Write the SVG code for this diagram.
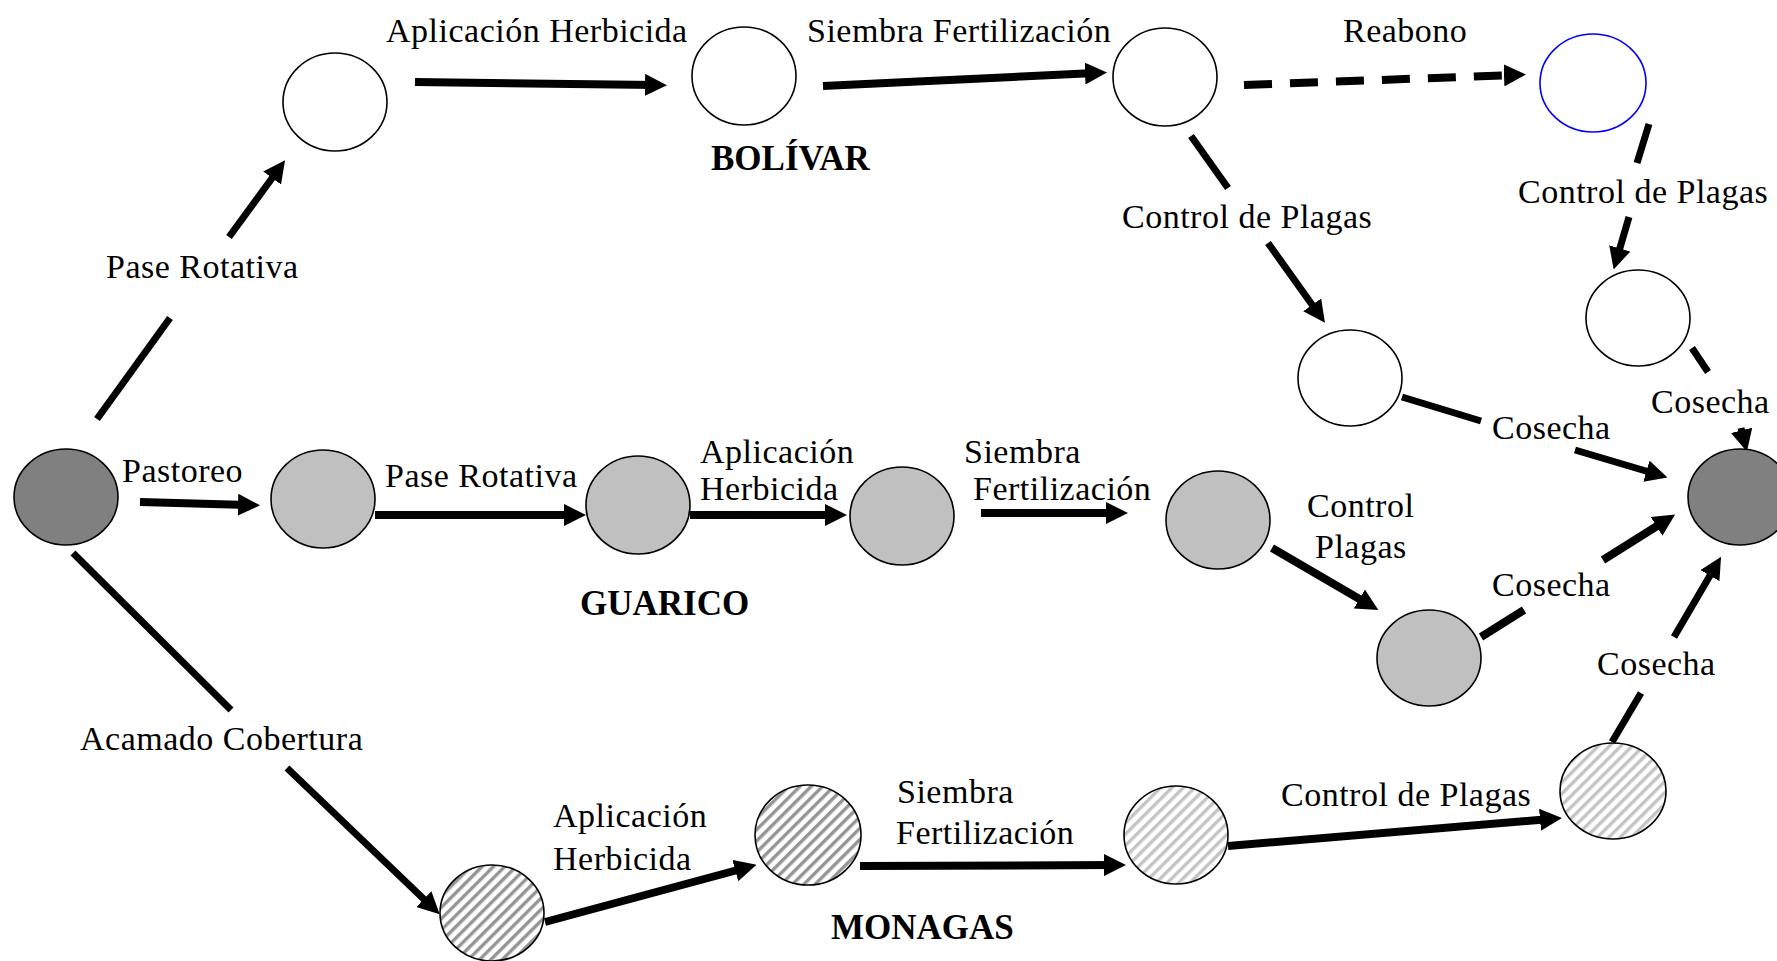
<svg xmlns="http://www.w3.org/2000/svg" width="1777" height="961" viewBox="0 0 1777 961">
<style>
.bg{fill:#ffffff}
.n{stroke:#000;stroke-width:1.6}
.w{fill:#fff}
.dk{fill:#808080}
.lg{fill:#c0c0c0}
.h1{fill:url(#hatchDark)}
.h2{fill:url(#hatchLight)}
.blue{fill:#fff;stroke:#0000ff;stroke-width:1.6}
.c{fill:none;stroke:#000;stroke-width:8;marker-end:url(#ah)}
.cd{fill:none;stroke:#000;stroke-width:7;marker-end:url(#ah)}
.dash{stroke-dasharray:28 18}
text{font-family:"Liberation Serif","Times New Roman",serif;font-size:34px;letter-spacing:0.5px;fill:#000}
.b{font-weight:bold;font-size:35px;letter-spacing:0}
</style>
<defs>
<marker id="ah" markerUnits="userSpaceOnUse" viewBox="0 0 22 22" markerWidth="22" markerHeight="22" refX="10" refY="11" orient="auto">
<path d="M0,0 L22,11 L0,22 z" fill="#000"/>
</marker>
<pattern id="hatchDark" patternUnits="userSpaceOnUse" width="8" height="8" patternTransform="rotate(45)">
<rect width="8" height="8" fill="#fff"/>
<rect width="3.4" height="8" fill="#959595"/>
</pattern>
<pattern id="hatchLight" patternUnits="userSpaceOnUse" width="8" height="8" patternTransform="rotate(45)">
<rect width="8" height="8" fill="#fff"/>
<rect width="3.4" height="8" fill="#c4c4c4"/>
</pattern>
</defs>
<rect class="bg" x="0" y="0" width="1777" height="961"/>

<g id="connectors">
<path id="e-start-b1" class="cd" d="M97,419 L170,318 M229,237 L278,170"/>
<path id="e-b1-b2" class="c" d="M415,82 L655,85"/>
<path id="e-b2-b3" class="c" d="M823,86 L1095,73"/>
<path id="e-b3-blue" class="c dash" d="M1244,85 L1514,75"/>
<path id="e-b3-b4" class="cd" d="M1191,136 L1228,188 M1268,243 L1318,313"/>
<path id="e-blue-b5" class="cd" d="M1649,124 L1637,163 M1629,217 L1617,258"/>
<path id="e-b4-end" class="cd" d="M1402,397 L1481,421 M1575,450 L1656,474"/>
<path id="e-b5-end" class="cd" d="M1692,348 L1708,372 M1741,428 L1744,440"/>
<path id="e-start-g1" class="c" d="M140,502 L248,505"/>
<path id="e-g1-g2" class="c" d="M375,515 L574,515"/>
<path id="e-g2-g3" class="c" d="M690,515 L835,515"/>
<path id="e-g3-g4" class="c" d="M981,513 L1116,513"/>
<path id="e-g4-g5" class="c" d="M1272,548 L1368,604"/>
<path id="e-g5-end" class="c" d="M1481,637 L1524,610 M1603,560 L1665,521"/>
<path id="e-m4-end" class="cd" d="M1612,742 L1641,693 M1674,637 L1715,567"/>
<path id="e-start-m1" class="cd" d="M73,553 L231,710 M287,768 L431,906"/>
<path id="e-m1-m2" class="c" d="M545,922 L745,868"/>
<path id="e-m2-m3" class="c" d="M860,866 L1114,865"/>
<path id="e-m3-m4" class="c" d="M1228,846 L1550,819"/>
</g>

<g id="node-start"><ellipse class="n dk" cx="66" cy="497" rx="52" ry="48"/></g>
<g id="node-b1"><ellipse class="n w" cx="335" cy="102" rx="52" ry="49"/></g>
<g id="node-b2"><ellipse class="n w" cx="744" cy="76" rx="52" ry="49"/></g>
<g id="node-b3"><ellipse class="n w" cx="1165" cy="77" rx="52" ry="49"/></g>
<g id="node-blue"><ellipse class="blue" cx="1593" cy="83" rx="53" ry="49"/></g>
<g id="node-b4"><ellipse class="n w" cx="1350" cy="378" rx="52" ry="48"/></g>
<g id="node-b5"><ellipse class="n w" cx="1638" cy="318" rx="52" ry="48"/></g>
<g id="node-end"><ellipse class="n dk" cx="1740" cy="497" rx="52" ry="48"/></g>
<g id="node-g1"><ellipse class="n lg" cx="323" cy="499" rx="52" ry="49"/></g>
<g id="node-g2"><ellipse class="n lg" cx="638" cy="505" rx="52" ry="49"/></g>
<g id="node-g3"><ellipse class="n lg" cx="902" cy="516" rx="52" ry="49"/></g>
<g id="node-g4"><ellipse class="n lg" cx="1218" cy="520" rx="52" ry="49"/></g>
<g id="node-g5"><ellipse class="n lg" cx="1429" cy="658" rx="52" ry="48"/></g>
<g id="node-m1"><ellipse class="n h1" cx="492" cy="913" rx="52" ry="48"/></g>
<g id="node-m2"><ellipse class="n h1" cx="808" cy="835" rx="53" ry="50"/></g>
<g id="node-m3"><ellipse class="n h2" cx="1176" cy="835" rx="52" ry="49"/></g>
<g id="node-m4"><ellipse class="n h2" cx="1613" cy="791" rx="53" ry="48"/></g>

<g id="labels">
<text x="386" y="42">Aplicación Herbicida</text>
<text x="807" y="42">Siembra Fertilización</text>
<text x="1343" y="42">Reabono</text>
<text class="b" x="711" y="170">BOLÍVAR</text>
<text x="106" y="278">Pase Rotativa</text>
<text x="1122" y="228">Control de Plagas</text>
<text x="1518" y="203">Control de Plagas</text>
<text x="1492" y="439">Cosecha</text>
<text x="1651" y="413">Cosecha</text>
<text x="122" y="482">Pastoreo</text>
<text x="385" y="487">Pase Rotativa</text>
<text x="700" y="463">Aplicación</text>
<text x="700" y="500">Herbicida</text>
<text x="964" y="463">Siembra</text>
<text x="973" y="500">Fertilización</text>
<text x="1307" y="517">Control</text>
<text x="1315" y="558">Plagas</text>
<text x="1492" y="596">Cosecha</text>
<text class="b" x="580" y="615">GUARICO</text>
<text x="80" y="750">Acamado Cobertura</text>
<text x="1597" y="675">Cosecha</text>
<text x="553" y="827">Aplicación</text>
<text x="553" y="870">Herbicida</text>
<text x="897" y="803">Siembra</text>
<text x="896" y="844">Fertilización</text>
<text x="1281" y="806">Control de Plagas</text>
<text class="b" x="831" y="939">MONAGAS</text>
</g>
</svg>
